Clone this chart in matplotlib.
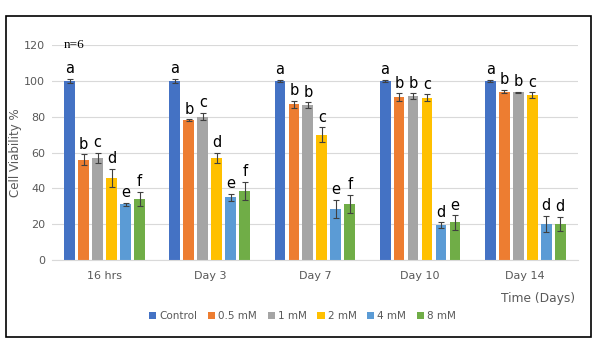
import numpy as np
import matplotlib.pyplot as plt
from matplotlib.patches import Rectangle

groups = ['16 hrs', 'Day 3', 'Day 7', 'Day 10', 'Day 14']
series = ['Control', '0.5 mM', '1 mM', '2 mM', '4 mM', '8 mM']
colors = ['#4472C4', '#ED7D31', '#A5A5A5', '#FFC000', '#5B9BD5', '#70AD47']

# rows = series, columns = groups
values = [
    [100, 100, 100, 100, 100],
    [56, 78, 87, 91, 94],
    [57, 80, 86.5, 91.5, 93.5],
    [46, 57, 70, 90.5, 92],
    [31, 35, 28.5, 19.5, 20],
    [34, 38.5, 31.5, 21, 20],
]
errors = [
    [1, 1, 0.5, 0.5, 0.5],
    [3, 0.5, 2, 2, 1],
    [3, 2, 1.5, 1.5, 0.5],
    [5, 3, 4, 2, 1.5],
    [1, 2, 5, 1.5, 4.5],
    [4, 5, 5, 4, 4],
]
letters = [
    ['a', 'a', 'a', 'a', 'a'],
    ['b', 'b', 'b', 'b', 'b'],
    ['c', 'c', 'b', 'b', 'b'],
    ['d', 'd', 'c', 'c', 'c'],
    ['e', 'e', 'e', 'd', 'd'],
    ['f', 'f', 'f', 'e', 'd'],
]

fig = plt.figure(figsize=(6.05, 3.49), dpi=100)
ax = fig.add_axes([0.086, 0.255, 0.869, 0.616])

x = np.arange(len(groups))
step = 0.133
width = 0.103
for i, name in enumerate(series):
    pos = x + (i - 2.5) * step
    ax.bar(pos, values[i], width, color=colors[i], label=name, zorder=2,
           yerr=errors[i], error_kw=dict(ecolor='#404040', elinewidth=0.8,
                                         capsize=2.5, capthick=0.8))
    for j in range(len(groups)):
        ax.text(pos[j], values[i][j] + errors[i][j] + 1.5, letters[i][j],
                ha='center', va='bottom', fontsize=10.5, color='black')

ax.set_xlim(-0.5, 4.5)
ax.set_ylim(0, 120)
ax.set_yticks(range(0, 121, 20))
ax.set_xticks(x)
ax.set_xticklabels(groups)
ax.yaxis.grid(True, color='#D9D9D9', linewidth=0.8, zorder=0)
ax.set_axisbelow(True)
for s in ['top', 'right', 'left']:
    ax.spines[s].set_visible(False)
ax.spines['bottom'].set_color('#D9D9D9')
ax.tick_params(axis='x', length=0, labelsize=8, colors='#595959', pad=8)
ax.tick_params(axis='y', length=0, labelsize=8, colors='#595959', pad=5)

ax.set_ylabel('Cell Viability %', fontsize=8.5, color='#595959')
ax.yaxis.set_label_coords(-0.058, 0.5)
ax.text(0.022, 120, 'n=6', transform=ax.get_yaxis_transform(),
        fontsize=9.5, family='Liberation Serif', va='center', ha='left')

fig.text(0.95, 0.145, 'Time (Days)', fontsize=8.8, color='#595959', ha='right', va='center')

fig.legend(loc='center', bbox_to_anchor=(0.5, 0.095), ncol=6, frameon=False,
           fontsize=7.5, handlelength=0.7, handleheight=0.7, handletextpad=0.3,
           columnspacing=1.0, labelcolor='#595959')

fig.patches.append(Rectangle((6 / 605, 1 - 337 / 349), 585 / 605, 321 / 349,
                             transform=fig.transFigure, fill=False,
                             edgecolor='black', linewidth=1.2))

fig.savefig('out.png', dpi=100)
